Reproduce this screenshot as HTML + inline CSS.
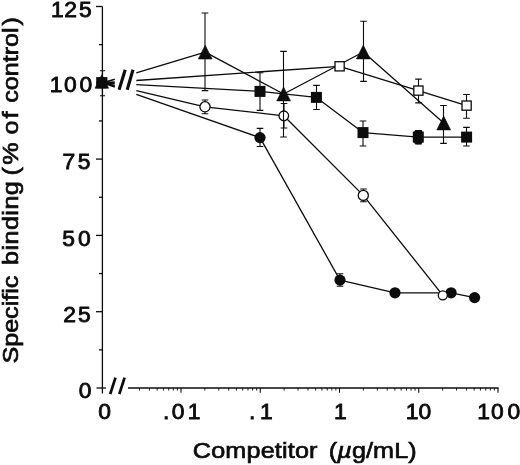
<!DOCTYPE html>
<html><head><meta charset="utf-8"><title>Competition binding</title>
<style>
html,body{margin:0;padding:0;background:#fff;}
body{width:520px;height:465px;overflow:hidden;}
svg{display:block;}
text{font-family:"Liberation Sans",sans-serif;fill:#0c0c0c;stroke:#0c0c0c;stroke-width:0.7px;font-kerning:none;}
</style></head><body>
<svg width="520" height="465" viewBox="0 0 520 465">
<rect width="520" height="465" fill="#fff"/>

<g stroke="#0c0c0c" stroke-width="1.3" fill="none" stroke-linecap="butt">
<line x1="102.4" y1="6.5" x2="102.4" y2="393.6"/>
<line x1="128" y1="388.0" x2="498.6" y2="388.0"/>
<line x1="96.5" y1="388.0" x2="106" y2="388.0"/>
<line x1="96" y1="311.70" x2="102.4" y2="311.70"/>
<line x1="96" y1="235.40" x2="102.4" y2="235.40"/>
<line x1="96" y1="159.10" x2="102.4" y2="159.10"/>
<line x1="96" y1="82.80" x2="102.4" y2="82.80"/>
<line x1="96" y1="6.50" x2="102.4" y2="6.50"/>
<line x1="99" y1="349.85" x2="102.4" y2="349.85"/>
<line x1="99" y1="273.55" x2="102.4" y2="273.55"/>
<line x1="99" y1="197.25" x2="102.4" y2="197.25"/>
<line x1="99" y1="120.95" x2="102.4" y2="120.95"/>
<line x1="99" y1="44.65" x2="102.4" y2="44.65"/>
</g>
<g stroke="#0c0c0c" stroke-width="1.1" fill="none">
<line x1="181.00" y1="388.0" x2="181.00" y2="392.8"/>
<line x1="260.25" y1="388.0" x2="260.25" y2="392.8"/>
<line x1="339.50" y1="388.0" x2="339.50" y2="392.8"/>
<line x1="418.75" y1="388.0" x2="418.75" y2="392.8"/>
<line x1="498.00" y1="388.0" x2="498.00" y2="392.8"/>
<line x1="139.56" y1="388.0" x2="139.56" y2="390.6" stroke-width="0.9"/>
<line x1="149.46" y1="388.0" x2="149.46" y2="390.6" stroke-width="0.9"/>
<line x1="157.14" y1="388.0" x2="157.14" y2="390.6" stroke-width="0.9"/>
<line x1="163.42" y1="388.0" x2="163.42" y2="390.6" stroke-width="0.9"/>
<line x1="168.72" y1="388.0" x2="168.72" y2="390.6" stroke-width="0.9"/>
<line x1="173.32" y1="388.0" x2="173.32" y2="390.6" stroke-width="0.9"/>
<line x1="177.37" y1="388.0" x2="177.37" y2="390.6" stroke-width="0.9"/>
<line x1="204.86" y1="388.0" x2="204.86" y2="390.6" stroke-width="0.9"/>
<line x1="218.81" y1="388.0" x2="218.81" y2="390.6" stroke-width="0.9"/>
<line x1="228.71" y1="388.0" x2="228.71" y2="390.6" stroke-width="0.9"/>
<line x1="236.39" y1="388.0" x2="236.39" y2="390.6" stroke-width="0.9"/>
<line x1="242.67" y1="388.0" x2="242.67" y2="390.6" stroke-width="0.9"/>
<line x1="247.97" y1="388.0" x2="247.97" y2="390.6" stroke-width="0.9"/>
<line x1="252.57" y1="388.0" x2="252.57" y2="390.6" stroke-width="0.9"/>
<line x1="256.62" y1="388.0" x2="256.62" y2="390.6" stroke-width="0.9"/>
<line x1="284.11" y1="388.0" x2="284.11" y2="390.6" stroke-width="0.9"/>
<line x1="298.06" y1="388.0" x2="298.06" y2="390.6" stroke-width="0.9"/>
<line x1="307.96" y1="388.0" x2="307.96" y2="390.6" stroke-width="0.9"/>
<line x1="315.64" y1="388.0" x2="315.64" y2="390.6" stroke-width="0.9"/>
<line x1="321.92" y1="388.0" x2="321.92" y2="390.6" stroke-width="0.9"/>
<line x1="327.22" y1="388.0" x2="327.22" y2="390.6" stroke-width="0.9"/>
<line x1="331.82" y1="388.0" x2="331.82" y2="390.6" stroke-width="0.9"/>
<line x1="335.87" y1="388.0" x2="335.87" y2="390.6" stroke-width="0.9"/>
<line x1="363.36" y1="388.0" x2="363.36" y2="390.6" stroke-width="0.9"/>
<line x1="377.31" y1="388.0" x2="377.31" y2="390.6" stroke-width="0.9"/>
<line x1="387.21" y1="388.0" x2="387.21" y2="390.6" stroke-width="0.9"/>
<line x1="394.89" y1="388.0" x2="394.89" y2="390.6" stroke-width="0.9"/>
<line x1="401.17" y1="388.0" x2="401.17" y2="390.6" stroke-width="0.9"/>
<line x1="406.47" y1="388.0" x2="406.47" y2="390.6" stroke-width="0.9"/>
<line x1="411.07" y1="388.0" x2="411.07" y2="390.6" stroke-width="0.9"/>
<line x1="415.12" y1="388.0" x2="415.12" y2="390.6" stroke-width="0.9"/>
<line x1="442.61" y1="388.0" x2="442.61" y2="390.6" stroke-width="0.9"/>
<line x1="456.56" y1="388.0" x2="456.56" y2="390.6" stroke-width="0.9"/>
<line x1="466.46" y1="388.0" x2="466.46" y2="390.6" stroke-width="0.9"/>
<line x1="474.14" y1="388.0" x2="474.14" y2="390.6" stroke-width="0.9"/>
<line x1="480.42" y1="388.0" x2="480.42" y2="390.6" stroke-width="0.9"/>
<line x1="485.72" y1="388.0" x2="485.72" y2="390.6" stroke-width="0.9"/>
<line x1="490.32" y1="388.0" x2="490.32" y2="390.6" stroke-width="0.9"/>
<line x1="494.37" y1="388.0" x2="494.37" y2="390.6" stroke-width="0.9"/>
</g>
<g stroke="#0c0c0c" stroke-linecap="butt">
<line x1="110.2" y1="394.2" x2="115.5" y2="377.7" stroke-width="2.75"/>
<line x1="119.3" y1="394.2" x2="124.6" y2="377.7" stroke-width="2.75"/>
<line x1="119.1" y1="89.7" x2="125.2" y2="69.8" stroke-width="3.1"/>
<line x1="127.2" y1="89.7" x2="133.0" y2="69.8" stroke-width="3.1"/>
</g>
<g stroke="#0c0c0c" stroke-width="1.3" fill="none" stroke-linejoin="round">
<line x1="103.0" y1="82.8" x2="114.8" y2="79.26" stroke-width="1.7"/>
<path d="M136.3 72.80 L205.20 52.10 L283.60 94.00 L363.30 52.00 L443.70 123.00"/>
<line x1="103.0" y1="82.8" x2="114.8" y2="81.98" stroke-width="1.7"/>
<path d="M136.3 80.48 L339.60 66.30 L418.40 90.60 L466.60 105.60"/>
<line x1="103.0" y1="82.8" x2="114.8" y2="83.45" stroke-width="1.7"/>
<path d="M136.3 84.62 L260.00 91.40 L316.40 97.40 L363.00 132.60 L418.30 137.10 L466.60 137.10"/>
<line x1="103.0" y1="82.8" x2="114.8" y2="85.58" stroke-width="1.7"/>
<path d="M136.3 90.64 L205.00 106.80 L283.80 115.80 L363.30 195.40 L442.80 295.30"/>
<line x1="103.0" y1="82.8" x2="114.8" y2="86.92" stroke-width="1.7"/>
<path d="M136.3 94.42 L260.00 137.60 L340.00 280.10 L395.00 292.80 L451.10 292.80 L474.60 297.60"/>
</g>
<g stroke="#0c0c0c" stroke-width="1.1" fill="none">
<path d="M102.50 70.70V95.70M99.90 70.70H105.10M99.90 95.70H105.10"/>
<path d="M205.00 13.00V90.60M201.70 13.00H208.30M201.70 90.60H208.30"/>
<path d="M283.50 51.40V137.00M280.20 51.40H286.80M280.20 137.00H286.80"/>
<path d="M363.50 21.20V81.40M360.20 21.20H366.80M360.20 81.40H366.80"/>
<path d="M443.50 105.50V143.40M440.20 105.50H446.80M440.20 143.40H446.80"/>
<path d="M418.50 79.10V102.90M415.20 79.10H421.80M415.20 102.90H421.80"/>
<path d="M466.50 94.50V118.30M463.20 94.50H469.80M463.20 118.30H469.80"/>
<path d="M260.00 72.70V110.40M256.70 72.70H263.30M256.70 110.40H263.30"/>
<path d="M316.50 85.40V109.50M313.20 85.40H319.80M313.20 109.50H319.80"/>
<path d="M363.00 121.00V146.00M359.70 121.00H366.30M359.70 146.00H366.30"/>
<path d="M418.50 130.60V144.00M415.20 130.60H421.80M415.20 144.00H421.80"/>
<path d="M466.50 127.40V146.00M463.20 127.40H469.80M463.20 146.00H469.80"/>
<path d="M205.00 100.00V113.70M201.70 100.00H208.30M201.70 113.70H208.30"/>
<path d="M284.00 103.50V128.00M280.70 103.50H287.30M280.70 128.00H287.30"/>
<path d="M363.50 189.00V201.80M360.20 189.00H366.80M360.20 201.80H366.80"/>
<path d="M260.00 128.40V146.50M256.70 128.40H263.30M256.70 146.50H263.30"/>
<path d="M340.00 273.80V286.30M336.70 273.80H343.30M336.70 286.30H343.30"/>
</g>
<rect x="96.20" y="77.10" width="11.2" height="11.2" fill="#0c0c0c"/>
<path d="M101.80 74.80L108.60 88.20H95.00Z" fill="#0c0c0c" stroke="#0c0c0c" stroke-width="0.6" stroke-linejoin="miter"/>
<circle cx="260.00" cy="137.60" r="5.6" fill="#0c0c0c"/>
<circle cx="340.00" cy="280.10" r="5.6" fill="#0c0c0c"/>
<circle cx="395.00" cy="292.80" r="5.6" fill="#0c0c0c"/>
<circle cx="451.10" cy="292.80" r="5.6" fill="#0c0c0c"/>
<circle cx="474.60" cy="297.60" r="5.6" fill="#0c0c0c"/>
<circle cx="205.00" cy="106.80" r="5.10" fill="#fff" stroke="#0c0c0c" stroke-width="1.3"/>
<circle cx="283.80" cy="115.80" r="4.80" fill="#fff" stroke="#0c0c0c" stroke-width="1.3"/>
<circle cx="363.30" cy="195.40" r="5.05" fill="#fff" stroke="#0c0c0c" stroke-width="1.3"/>
<circle cx="442.80" cy="295.30" r="4.50" fill="#fff" stroke="#0c0c0c" stroke-width="1.3"/>
<rect x="413.9" y="130.0" width="8.8" height="14.2" rx="3" fill="#0c0c0c"/>
<rect x="254.50" y="85.90" width="11" height="11" fill="#0c0c0c"/>
<rect x="310.90" y="91.90" width="11" height="11" fill="#0c0c0c"/>
<rect x="357.50" y="127.10" width="11" height="11" fill="#0c0c0c"/>
<rect x="412.80" y="131.60" width="11" height="11" fill="#0c0c0c"/>
<rect x="461.10" y="131.60" width="11" height="11" fill="#0c0c0c"/>
<rect x="335.00" y="61.70" width="9.2" height="9.2" fill="#fff" stroke="#0c0c0c" stroke-width="1.3"/>
<rect x="413.80" y="86.00" width="9.2" height="9.2" fill="#fff" stroke="#0c0c0c" stroke-width="1.3"/>
<rect x="462.00" y="101.00" width="9.2" height="9.2" fill="#fff" stroke="#0c0c0c" stroke-width="1.3"/>
<line x1="283.5" y1="110" x2="283.5" y2="122" stroke="#0c0c0c" stroke-width="1.1"/>
<path d="M205.20 45.20L212.10 59.00H198.30Z" fill="#0c0c0c" stroke="#0c0c0c" stroke-width="0.6" stroke-linejoin="miter"/>
<path d="M283.60 87.10L290.50 100.90H276.70Z" fill="#0c0c0c" stroke="#0c0c0c" stroke-width="0.6" stroke-linejoin="miter"/>
<path d="M363.30 45.10L370.20 58.90H356.40Z" fill="#0c0c0c" stroke="#0c0c0c" stroke-width="0.6" stroke-linejoin="miter"/>
<path d="M443.70 116.10L450.60 129.90H436.80Z" fill="#0c0c0c" stroke="#0c0c0c" stroke-width="0.6" stroke-linejoin="miter"/>
<text transform="translate(0 16.50) scale(1.02 1)" font-size="22.4" style="stroke-width:0.85px" x="49.91 63.04 77.37" id="y125">125</text>
<text transform="translate(0 92.10) scale(1.02 1)" font-size="22.4" style="stroke-width:0.85px" x="48.73 62.79 78.04" id="y100">100</text>
<text transform="translate(0 168.90) scale(1.02 1)" font-size="22.4" style="stroke-width:0.85px" x="61.21 76.34" id="y75">75</text>
<text transform="translate(0 246.00) scale(1.02 1)" font-size="22.4" style="stroke-width:0.85px" x="61.10 76.47" id="y50">50</text>
<text transform="translate(0 321.70) scale(1.02 1)" font-size="22.4" style="stroke-width:0.85px" x="61.91 76.59" id="y25">25</text>
<text transform="translate(0 398.10) scale(1.02 1)" font-size="22.4" style="stroke-width:0.85px" x="77.10" id="y0">0</text>
<text transform="translate(0 419.20) scale(1.02 1)" font-size="22.4" style="stroke-width:0.85px" x="96.42" id="x0">0</text>
<text transform="translate(0 419.20) scale(1.02 1)" font-size="22.4" style="stroke-width:0.85px" x="159.83 168.38 184.12" id="x01">.01</text>
<text transform="translate(0 419.20) scale(1.02 1)" font-size="22.4" style="stroke-width:0.85px" x="244.24 254.91" id="x1">.1</text>
<text transform="translate(0 419.20) scale(1.02 1)" font-size="22.4" style="stroke-width:0.85px" x="327.56" id="x1b">1</text>
<text transform="translate(0 419.20) scale(1.02 1)" font-size="22.4" style="stroke-width:0.85px" x="397.75 410.34" id="x10">10</text>
<text transform="translate(0 419.20) scale(1.02 1)" font-size="22.4" style="stroke-width:0.85px" x="467.85 481.42 497.45" id="x100">100</text>
<text transform="translate(0 458.3) scale(1.12 1)" font-size="22.5" id="xt"><tspan x="172.16" letter-spacing="0.149">Competitor</tspan> <tspan x="293.56" letter-spacing="0.089">(<tspan font-style="italic">µ</tspan>g/mL)</tspan></text>
<text transform="translate(18.3 0) rotate(-90) scale(1.12 1)" font-size="22.5" id="yt"><tspan x="-324.64" letter-spacing="-0.042">Specific</tspan> <tspan x="-236.58" letter-spacing="0.383">binding</tspan> <tspan x="-156.71" letter-spacing="0.000">(</tspan><tspan x="-147.10" letter-spacing="0.000">%</tspan> <tspan x="-120.01" letter-spacing="1.790">of</tspan> <tspan x="-91.71" letter-spacing="-0.042">control</tspan><tspan x="-22.68" letter-spacing="0.000">)</tspan></text>
</svg></body></html>
